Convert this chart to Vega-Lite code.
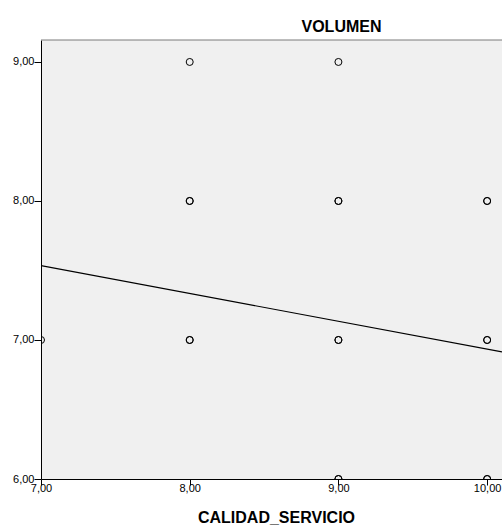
{
  "$schema": "https://vega.github.io/schema/vega-lite/v6.json",
  "width": 461,
  "height": 439,
  "autosize": {"type": "none"},
  "padding": {"left": 41, "top": 40, "right": 0, "bottom": 49},
  "background": "white",
  "config": {
    "view": {"fill": "#f0f0f0", "stroke": null},
    "font": "Liberation Sans",
    "axis": {
      "grid": false,
      "domainColor": "#000",
      "domainWidth": 1,
      "tickColor": "#000",
      "tickWidth": 1,
      "labelColor": "#000",
      "labelFont": "Liberation Sans",
      "labelFontSize": 11,
      "labelFlush": false,
      "labelOverlap": false,
      "titleColor": "#000",
      "titleFont": "Liberation Sans",
      "titleFontWeight": "bold",
      "titleFontSize": 16
    }
  },
  "title": {
    "text": "VOLUMEN",
    "anchor": "middle",
    "frame": "group",
    "dx": 70,
    "offset": -8,
    "baseline": "alphabetic",
    "fontSize": 16,
    "fontWeight": "bold",
    "font": "Liberation Sans",
    "color": "#000"
  },
  "datasets": {
    "points": [
      {"calidad": 7, "volumen": 7},
      {"calidad": 8, "volumen": 9},
      {"calidad": 9, "volumen": 9},
      {"calidad": 8, "volumen": 8},
      {"calidad": 8, "volumen": 8},
      {"calidad": 9, "volumen": 8},
      {"calidad": 9, "volumen": 8},
      {"calidad": 10, "volumen": 8},
      {"calidad": 10, "volumen": 8},
      {"calidad": 8, "volumen": 7},
      {"calidad": 8, "volumen": 7},
      {"calidad": 9, "volumen": 7},
      {"calidad": 9, "volumen": 7},
      {"calidad": 10, "volumen": 7},
      {"calidad": 10, "volumen": 7},
      {"calidad": 9, "volumen": 6},
      {"calidad": 9, "volumen": 6},
      {"calidad": 10, "volumen": 6},
      {"calidad": 10, "volumen": 6}
    ],
    "fit": [
      {"calidad": 7, "volumen": 7.535},
      {"calidad": 10.1, "volumen": 6.914}
    ],
    "border": [{"volumen": 9.158}]
  },
  "layer": [
    {
      "data": {"name": "points"},
      "mark": {"type": "point", "shape": "circle", "size": 49, "filled": false, "stroke": "#000", "strokeWidth": 1, "opacity": 1, "clip": true},
      "encoding": {
        "x": {
          "field": "calidad",
          "type": "quantitative",
          "scale": {"domain": [7, 10.1], "nice": false, "zero": false},
          "axis": {
            "title": "CALIDAD_SERVICIO",
            "values": [7, 8, 9, 10],
            "labelExpr": "replace(format(datum.value, '.2f'), '.', ',')",
            "tickSize": 6,
            "labelPadding": -3,
            "titleBaseline": "alphabetic",
            "titleY": 43,
            "titleX": 235
          }
        },
        "y": {
          "field": "volumen",
          "type": "quantitative",
          "scale": {"domain": [6, 9.158], "nice": false, "zero": false},
          "axis": {
            "title": null,
            "values": [6, 7, 8, 9],
            "labelExpr": "replace(format(datum.value, '.2f'), '.', ',')",
            "tickSize": 7,
            "labelPadding": 0
          }
        }
      }
    },
    {
      "data": {"name": "fit"},
      "mark": {"type": "line", "color": "#000", "strokeWidth": 1.2, "clip": true},
      "encoding": {
        "x": {"field": "calidad", "type": "quantitative"},
        "y": {"field": "volumen", "type": "quantitative"}
      }
    },
    {
      "data": {"name": "border"},
      "mark": {"type": "rule", "color": "#7a7a7a", "strokeWidth": 1},
      "encoding": {
        "y": {"field": "volumen", "type": "quantitative"}
      }
    }
  ]
}
